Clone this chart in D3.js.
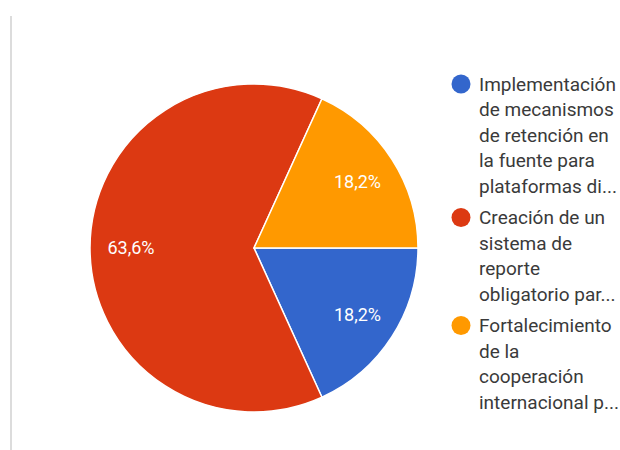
<!DOCTYPE html>
<html><head><meta charset="utf-8">
<script src="https://cdn.jsdelivr.net/npm/d3@7"></script>
<style>html,body{margin:0;padding:0;background:#fff;}svg{display:block;}</style>
</head><body>
<svg id="chart" width="620" height="450"></svg>
<script>
const categories = [
  ["Implementación", "de mecanismos", "de retención en", "la fuente para", "plataformas di..."],
  ["Creación de un", "sistema de", "reporte", "obligatorio par..."],
  ["Fortalecimiento", "de la", "cooperación", "internacional p..."]
];
const values = [18.2, 63.6, 18.2];
const valueLabels = ["18,2%", "63,6%", "18,2%"];
const colors = ["#3366cc", "#dc3912", "#ff9900"];

const svg = d3.select("#chart");
svg.append("line").attr("x1", 11).attr("x2", 11).attr("y1", 16).attr("y2", 450)
  .attr("stroke", "#dcdcdc").attr("stroke-width", 2);

const cx = 254, cy = 248, R = 164;
const pie = d3.pie().value(d => d).sort(null)
  .startAngle(Math.PI / 2).endAngle(Math.PI / 2 + 2 * Math.PI);
const arcs = pie(values);
const arc = d3.arc().innerRadius(0).outerRadius(R);
const labelArc = d3.arc().innerRadius(R * 0.75).outerRadius(R * 0.75);
const g = svg.append("g").attr("transform", `translate(${cx},${cy})`);
g.selectAll("path").data(arcs).join("path")
  .attr("d", arc).attr("fill", (d, i) => colors[i])
  .attr("stroke", "#fff").attr("stroke-width", 1.5);
g.selectAll("text").data(arcs).join("text")
  .attr("transform", d => `translate(${labelArc.centroid(d)})`)
  .attr("text-anchor", "middle").attr("dy", "0.35em")
  .attr("font-family", "Roboto").attr("font-size", 18).attr("fill", "#fff")
  .text((d, i) => valueLabels[i]);

const lg = svg.append("g");
const lineH = 25.5, gap = 6;
let y = 84;
categories.forEach((lines, i) => {
  lg.append("circle").attr("cx", 461).attr("cy", y).attr("r", 9.5).attr("fill", colors[i]);
  const t = lg.append("text").attr("font-family", "Roboto").attr("font-size", 19).attr("fill", "#3a3a3a");
  lines.forEach((s, j) => {
    t.append("tspan").attr("x", 479).attr("y", y + j * lineH).attr("dy", "0.35em").text(s);
  });
  y += lines.length * lineH + gap;
});
</script>
</body></html>
